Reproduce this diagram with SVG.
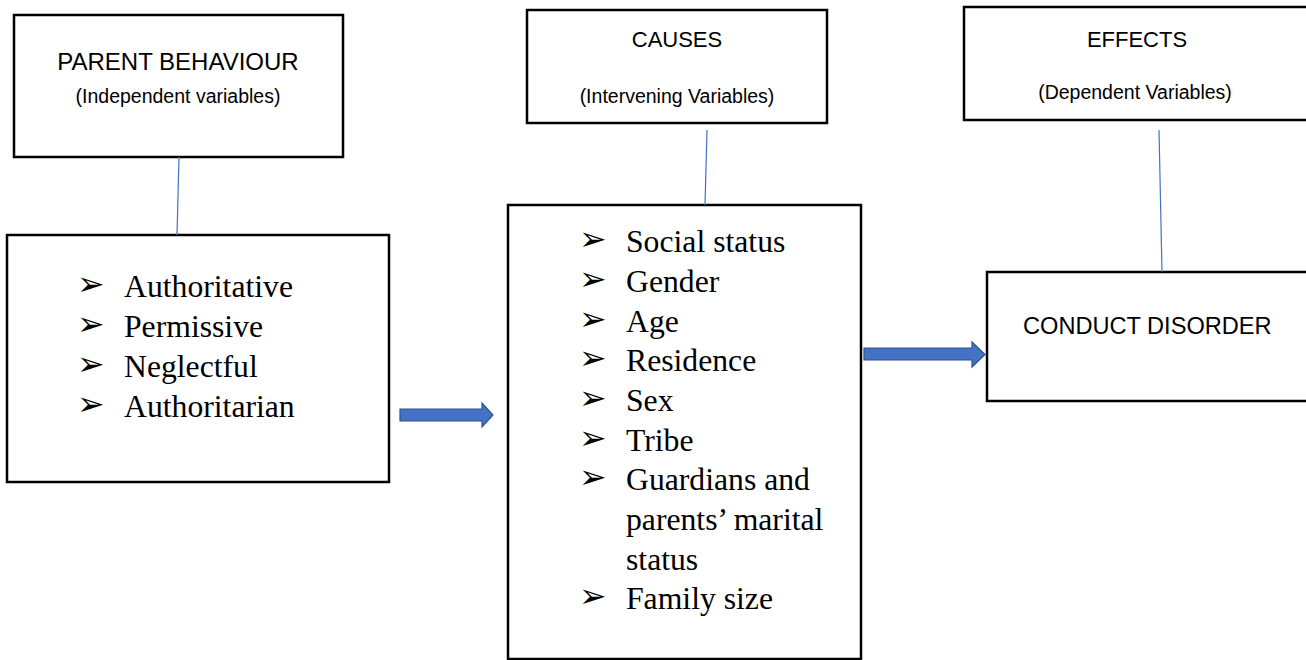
<svg xmlns="http://www.w3.org/2000/svg" width="1306" height="660" viewBox="0 0 1306 660">
<style>
.box{fill:#fff;stroke:#000;stroke-width:2.5}
.hd{font-family:"Liberation Sans",Arial,sans-serif;font-size:22px;fill:#000;text-anchor:middle}
.sub{font-family:"Liberation Sans",Arial,sans-serif;font-size:19.5px;fill:#000;text-anchor:middle}
.it{font-family:"Liberation Serif","Times New Roman",serif;font-size:31.7px;fill:#000}
.bl{font-family:"DejaVu Sans",sans-serif;font-size:33px;fill:#000}
.ln{stroke:#4472C4;stroke-width:1.2;fill:none}
.ar{fill:#4472C4;stroke:#2F528F;stroke-width:1.2}
</style>
<rect width="1306" height="660" fill="#fff"/>
<g id="parent-behaviour">
<rect class="box" x="14" y="15" width="329" height="142"/>
<text class="hd" x="178" y="70" style="font-size:24px">PARENT BEHAVIOUR</text>
<text class="sub" x="178" y="103">(Independent variables)</text>
</g>
<g id="styles">
<rect class="box" x="7" y="235" width="382" height="247"/>
<text class="bl" x="77" y="295">➢</text><text class="it" x="124" y="297">Authoritative</text>
<text class="bl" x="77" y="335">➢</text><text class="it" x="124" y="337">Permissive</text>
<text class="bl" x="77" y="375">➢</text><text class="it" x="124" y="377">Neglectful</text>
<text class="bl" x="77" y="415">➢</text><text class="it" x="124" y="417">Authoritarian</text>
</g>
<g id="causes">
<rect class="box" x="527" y="10" width="300" height="113"/>
<text class="hd" x="677" y="47">CAUSES</text>
<text class="sub" x="677" y="103">(Intervening Variables)</text>
</g>
<g id="factors">
<rect class="box" x="508" y="205" width="353" height="454"/>
<text class="bl" x="579" y="250">➢</text><text class="it" x="626" y="252">Social status</text>
<text class="bl" x="579" y="290">➢</text><text class="it" x="626" y="292">Gender</text>
<text class="bl" x="579" y="330">➢</text><text class="it" x="626" y="332">Age</text>
<text class="bl" x="579" y="369">➢</text><text class="it" x="626" y="371">Residence</text>
<text class="bl" x="579" y="409">➢</text><text class="it" x="626" y="411">Sex</text>
<text class="bl" x="579" y="449">➢</text><text class="it" x="626" y="451">Tribe</text>
<text class="bl" x="579" y="488">➢</text><text class="it" x="626" y="490">Guardians and</text>
<text class="it" x="626" y="530">parents’ marital</text>
<text class="it" x="626" y="570">status</text>
<text class="bl" x="579" y="607">➢</text><text class="it" x="626" y="609">Family size</text>
</g>
<g id="effects">
<rect class="box" x="964" y="7" width="360" height="113"/>
<text class="hd" x="1137" y="47">EFFECTS</text>
<text class="sub" x="1135" y="99">(Dependent Variables)</text>
</g>
<g id="conduct-disorder">
<rect class="box" x="987" y="272" width="340" height="129"/>
<text class="hd" x="1023" y="334" style="text-anchor:start;font-size:23.6px">CONDUCT DISORDER</text>
</g>
<g id="connectors">
<line class="ln" x1="179" y1="157" x2="177" y2="235"/>
<line class="ln" x1="707" y1="130" x2="705" y2="205"/>
<line class="ln" x1="1159" y1="130" x2="1162" y2="272"/>
<polygon class="ar" points="400,409 482,409 482,403 493,415 482,427 482,421 400,421"/>
<polygon class="ar" points="864,348 972,348 972,342 985,354.5 972,367 972,360 864,360"/>
</g>
</svg>
